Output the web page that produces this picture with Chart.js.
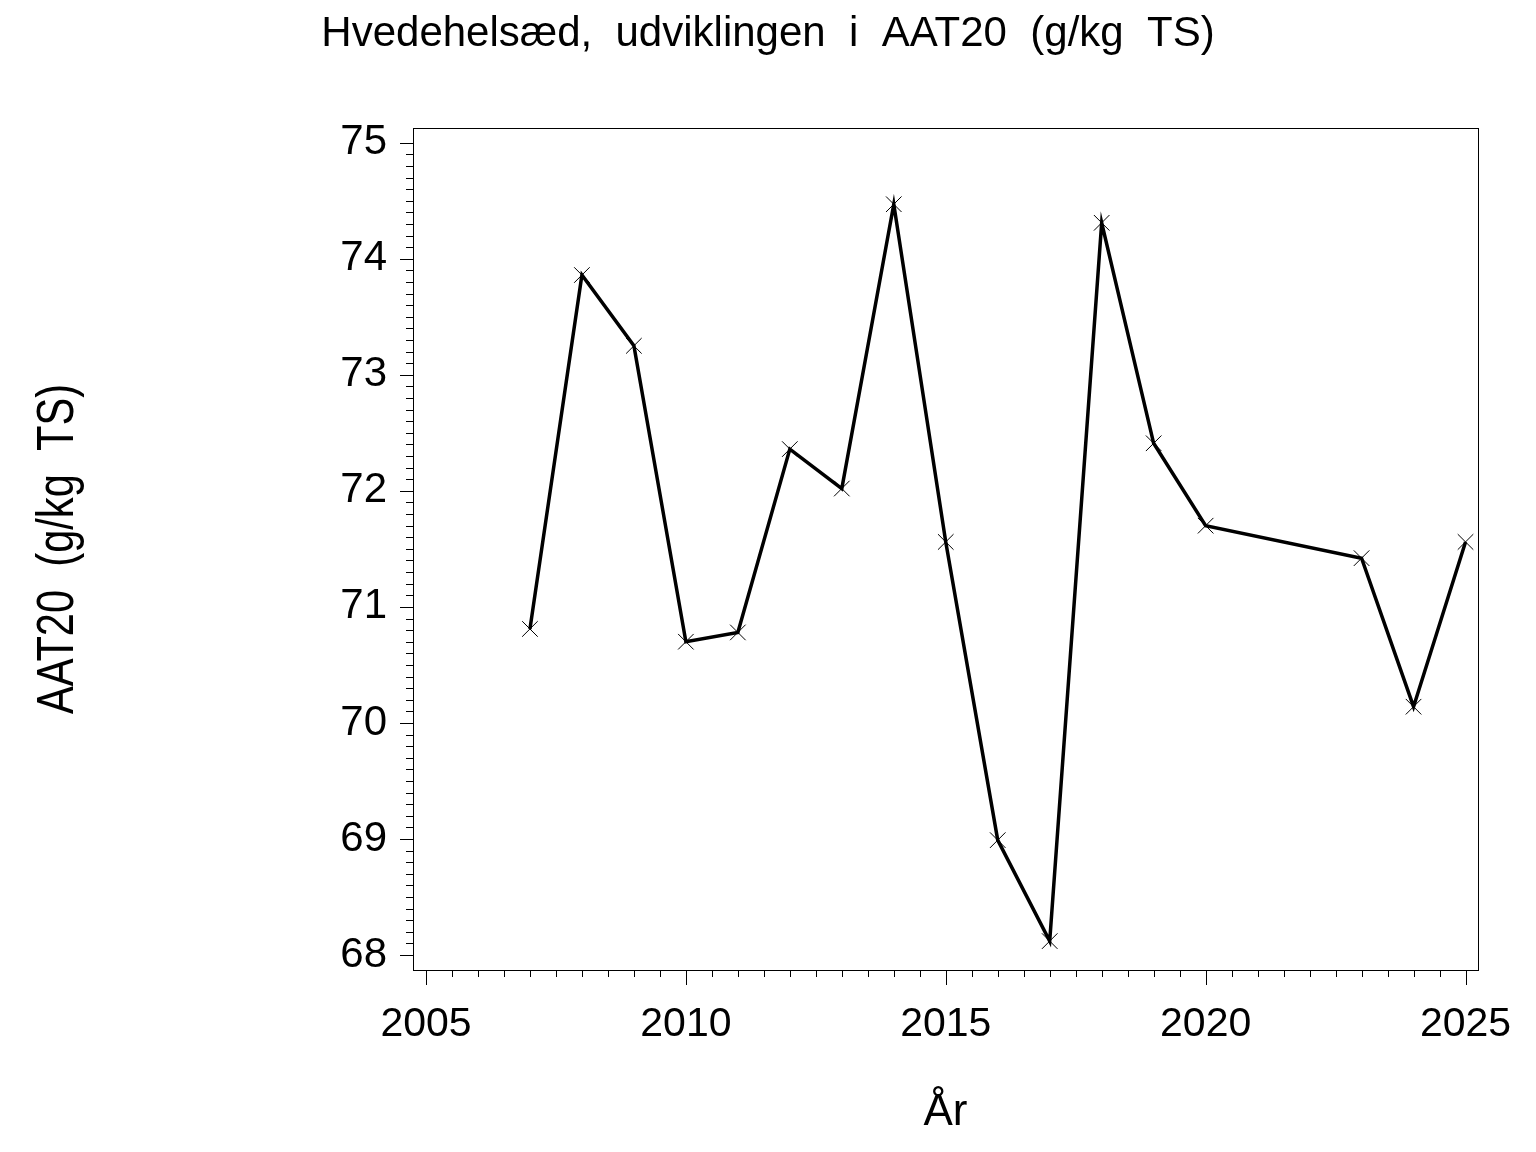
<!DOCTYPE html>
<html>
<head>
<meta charset="utf-8">
<script src="https://cdn.jsdelivr.net/npm/chart.js@4.4.0/dist/chart.umd.min.js"></script>
<style>
  html, body { margin: 0; padding: 0; background: #fff; }
</style>
</head>
<body>
<canvas id="chart" width="1536" height="1152"></canvas>
<script>
// Daten: AAT20 (g/kg TS) pro Jahr
const aar = [2007, 2008, 2009, 2010, 2011, 2012, 2013, 2014, 2015, 2016, 2017, 2018, 2019, 2020, 2023, 2024, 2025];
const aat20 = [70.81, 73.86, 73.25, 70.70, 70.78, 72.36, 72.02, 74.47, 71.56, 68.99, 68.12, 74.31, 72.41, 71.70, 71.42, 70.14, 71.56];

const xTicks = [2005, 2010, 2015, 2020, 2025];
const yTicks = [68, 69, 70, 71, 72, 73, 74, 75];

const titel = 'Hvedehelsæd,  udviklingen  i  AAT20  (g/kg  TS)';
const xTitel = 'År';
const yTitel = 'AAT20  (g/kg  TS)';

const schrift = "'Liberation Sans', Arial, sans-serif";

// Rahmen, Haupt- und Nebenstriche, Achsentitel
const rahmen = {
  id: 'rahmen',
  afterDraw(chart) {
    const ctx = chart.ctx;
    const a = chart.chartArea;
    const x = chart.scales.x, y = chart.scales.y;
    ctx.save();
    ctx.strokeStyle = '#000';
    ctx.lineWidth = 1;
    ctx.strokeRect(a.left + 0.5, a.top + 0.5, a.right - a.left, a.bottom - a.top);

    ctx.beginPath();
    for (let i = yTicks[0] * 10; i <= yTicks[yTicks.length - 1] * 10; i++) {
      const py = Math.round(y.getPixelForValue(i / 10)) + 0.5;
      const len = i % 10 === 0 ? 13 : 7;
      ctx.moveTo(a.left - len, py);
      ctx.lineTo(a.left, py);
    }
    for (let i = xTicks[0] * 2; i <= xTicks[xTicks.length - 1] * 2; i++) {
      const px = Math.round(x.getPixelForValue(i / 2)) + 0.5;
      const len = i % 10 === 0 ? 15 : 7;
      ctx.moveTo(px, a.bottom);
      ctx.lineTo(px, a.bottom + len);
    }
    ctx.stroke();

    ctx.fillStyle = '#000';
    ctx.font = '44px ' + schrift;
    ctx.textAlign = 'center';
    ctx.textBaseline = 'alphabetic';
    ctx.fillText(xTitel, (a.left + a.right) / 2, 1125);

    ctx.translate(73, (a.top + a.bottom) / 2);
    ctx.rotate(-Math.PI / 2);
    ctx.font = '52px ' + schrift;
    ctx.fillText(yTitel, 0, 0, 330);
    ctx.restore();
  }
};

new Chart(document.getElementById('chart').getContext('2d'), {
  type: 'line',
  data: {
    datasets: [{
      data: aar.map((j, i) => ({ x: j, y: aat20[i] })),
      borderColor: '#000',
      borderWidth: 3.5,
      tension: 0,
      pointStyle: 'crossRot',
      pointRadius: 11,
      pointBorderWidth: 1,
      pointBorderColor: '#000',
      pointBackgroundColor: '#000'
    }]
  },
  options: {
    responsive: false,
    animation: false,
    layout: { padding: 0 },
    plugins: {
      legend: { display: false },
      tooltip: { enabled: false },
      title: {
        display: true,
        text: titel,
        color: '#000',
        font: { family: schrift, size: 42, weight: 'normal', lineHeight: 1.2 },
        padding: { top: 8.8, bottom: 68.8 }
      }
    },
    scales: {
      x: {
        type: 'linear',
        min: 2004.75,
        max: 2025.24,
        afterBuildTicks: s => { s.ticks = xTicks.map(v => ({ value: v })); },
        afterFit: s => { s.height = 182; s.paddingLeft = 0; s.paddingRight = 58; },
        ticks: {
          color: '#000',
          font: { family: schrift, size: 41 },
          padding: 30,
          maxRotation: 0,
          autoSkip: false,
          callback: v => String(v)
        },
        grid: { display: false, drawTicks: false },
        border: { display: false }
      },
      y: {
        min: 67.871,
        max: 75.127,
        afterBuildTicks: s => { s.ticks = yTicks.map(v => ({ value: v })); },
        afterFit: s => { s.width = 413; s.paddingTop = 0; s.paddingBottom = 0; },
        ticks: {
          color: '#000',
          font: { family: schrift, size: 42 },
          padding: 26,
          autoSkip: false
        },
        grid: { display: false, drawTicks: false },
        border: { display: false }
      }
    }
  },
  plugins: [rahmen]
});
</script>
</body>
</html>
